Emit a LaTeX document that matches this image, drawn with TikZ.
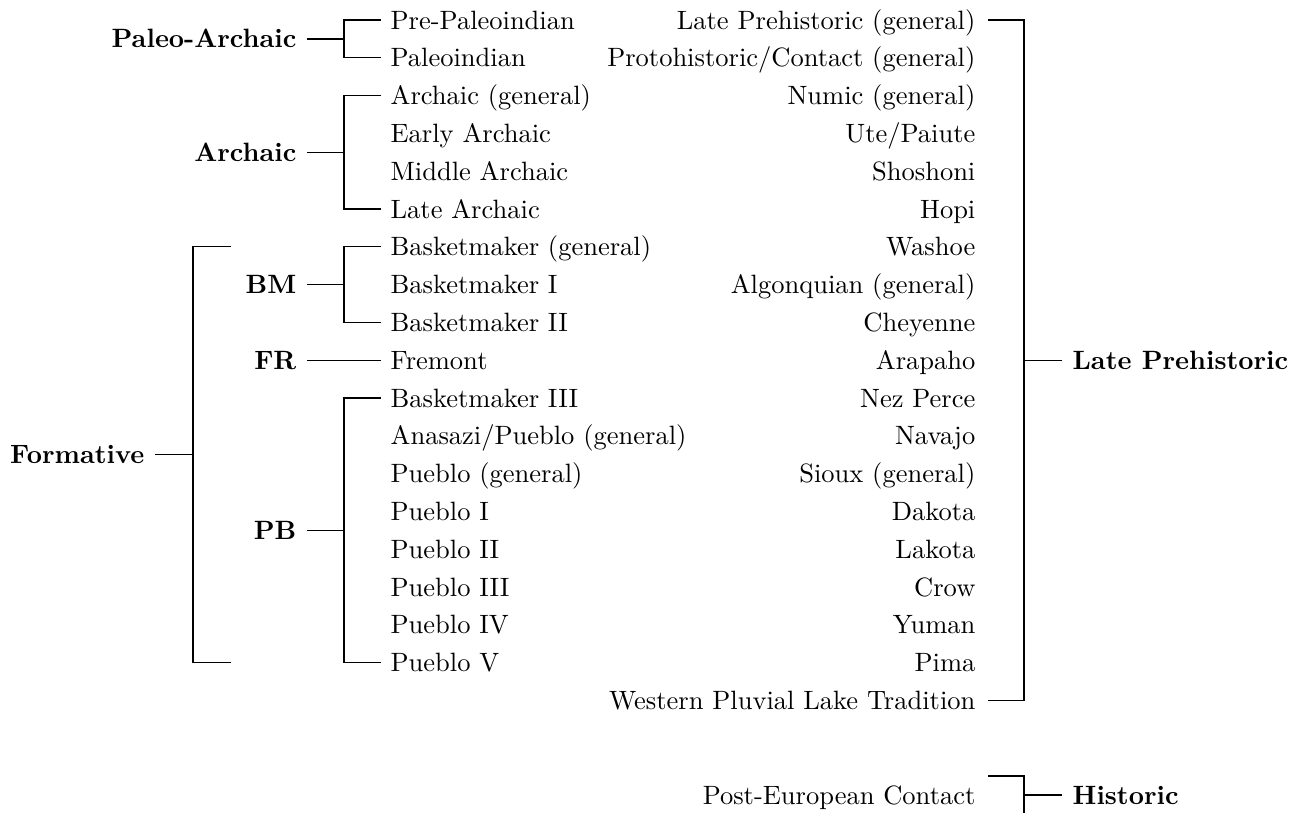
\documentclass[tikz,border=0pt]{standalone}
\usepackage{graphicx}
\newcommand\sx[1]{\scalebox{2.65}{#1}}
\begin{document}
\begin{tikzpicture}[x=1pt,y=-1pt,line width=1.3pt,
  base/.style={inner ysep=0pt,text height=18.1pt,text depth=0pt,font=\fontsize{10}{12}\selectfont},
  leaf/.style={base,anchor=west,inner xsep=9pt},
  rleaf/.style={base,anchor=east,inner xsep=12pt},
  grp/.style={base,anchor=east,inner xsep=10pt,font=\fontsize{10}{12}\selectfont\bfseries},
  rgrp/.style={base,anchor=west,inner xsep=10pt,font=\fontsize{10}{12}\selectfont\bfseries}]
\useasboundingbox (0,0) rectangle (1299,812);
% left leaves
\node[leaf] (l1) at (381,20) {\sx{Pre-Paleoindian}};
\node[leaf] (l2) at (381,57.8) {\sx{Paleoindian}};
\node[leaf] (l3) at (381,95.6) {\sx{Archaic (general)}};
\node[leaf] (l4) at (381,133.4) {\sx{Early Archaic}};
\node[leaf] (l5) at (381,171.2) {\sx{Middle Archaic}};
\node[leaf] (l6) at (381,209) {\sx{Late Archaic}};
\node[leaf] (l7) at (381,246.8) {\sx{Basketmaker (general)}};
\node[leaf] (l8) at (381,284.6) {\sx{Basketmaker I}};
\node[leaf] (l9) at (381,322.4) {\sx{Basketmaker II}};
\node[leaf] (l10) at (381,360.2) {\sx{Fremont}};
\node[leaf] (l11) at (381,398) {\sx{Basketmaker III}};
\node[leaf] (l12) at (381,435.8) {\sx{Anasazi/Pueblo (general)}};
\node[leaf] (l13) at (381,473.6) {\sx{Pueblo (general)}};
\node[leaf] (l14) at (381,511.4) {\sx{Pueblo I}};
\node[leaf] (l15) at (381,549.2) {\sx{Pueblo II}};
\node[leaf] (l16) at (381,587) {\sx{Pueblo III}};
\node[leaf] (l17) at (381,624.8) {\sx{Pueblo IV}};
\node[leaf] (l18) at (381,662.6) {\sx{Pueblo V}};
% left groups
\node[grp] (pa) at (307,38.9) {\sx{Paleo-Archaic}};
\node[grp] (ar) at (307,152.3) {\sx{Archaic}};
\node[grp] (bm) at (307,284.6) {\sx{BM}};
\node[grp] (fr) at (307,360.2) {\sx{FR}};
\node[grp] (pb) at (307,530.3) {\sx{PB}};
\node[grp] (fo) at (155,454.7) {\sx{Formative}};
\coordinate (fT) at (231,246.8);
\coordinate (fB) at (231,662.6);
% right leaves
\node[rleaf] (r1) at (988,20) {\sx{Late Prehistoric (general)}};
\node[rleaf] (r2) at (988,57.8) {\sx{Protohistoric/Contact (general)}};
\node[rleaf] (r3) at (988,95.6) {\sx{Numic (general)}};
\node[rleaf] (r4) at (988,133.4) {\sx{Ute/Paiute}};
\node[rleaf] (r5) at (988,171.2) {\sx{Shoshoni}};
\node[rleaf] (r6) at (988,209) {\sx{Hopi}};
\node[rleaf] (r7) at (988,246.8) {\sx{Washoe}};
\node[rleaf] (r8) at (988,284.6) {\sx{Algonquian (general)}};
\node[rleaf] (r9) at (988,322.4) {\sx{Cheyenne}};
\node[rleaf] (r10) at (988,360.2) {\sx{Arapaho}};
\node[rleaf] (r11) at (988,398) {\sx{Nez Perce}};
\node[rleaf] (r12) at (988,435.8) {\sx{Navajo}};
\node[rleaf] (r13) at (988,473.6) {\sx{Sioux (general)}};
\node[rleaf] (r14) at (988,511.4) {\sx{Dakota}};
\node[rleaf] (r15) at (988,549.2) {\sx{Lakota}};
\node[rleaf] (r16) at (988,587) {\sx{Crow}};
\node[rleaf] (r17) at (988,624.8) {\sx{Yuman}};
\node[rleaf] (r18) at (988,662.6) {\sx{Pima}};
\node[rleaf] (r19) at (988,700.4) {\sx{Western Pluvial Lake Tradition}};
\node[rleaf] (r20) at (988,795) {\sx{Post-European Contact}};
\coordinate (hT) at (988,776);
% right groups
\node[rgrp] (lp) at (1062,360.2) {\sx{Late Prehistoric}};
\node[rgrp] (hi) at (1062,795) {\sx{Historic}};
% connectors
\draw (pa.east) -- ++(37,0);
\draw (l1.west) -- ++(-37,0) |- (l2.west);
\draw (ar.east) -- ++(37,0);
\draw (l3.west) -- ++(-37,0) |- (l6.west);
\draw (bm.east) -- ++(37,0);
\draw (l7.west) -- ++(-37,0) |- (l9.west);
\draw (fr.east) -- (l10.west);
\draw (pb.east) -- ++(37,0);
\draw (l11.west) -- ++(-37,0) |- (l18.west);
\draw (fo.east) -- ++(38,0);
\draw (fT) -- ++(-38,0) |- (fB);
\draw (r1.east) -- ++(36,0) |- (r19.east);
\draw (lp.west) -- ++(-38,0);
\draw (hT) -- ++(36,0) -- ++(0,45);
\draw (hi.west) -- ++(-38,0);
\end{tikzpicture}
\end{document}
